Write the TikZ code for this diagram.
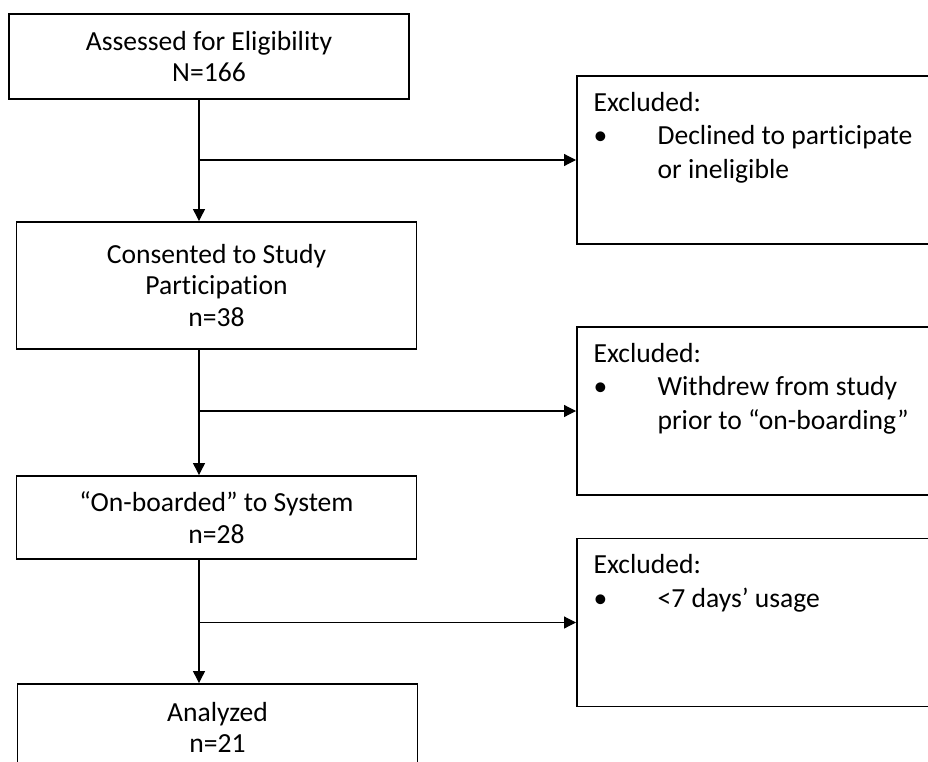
\documentclass[tikz,border=0pt]{standalone}
\usepackage{fontspec}
\setmainfont{Carlito}[Ligatures=NoCommon]
\usetikzlibrary{arrows.meta,positioning}
\begin{document}
\begin{tikzpicture}[x=1pt, y=-1pt, line width=1.2pt, >={Triangle[length=12pt,width=12pt]},
  font=\fontsize{27.6}{31.5}\selectfont,
  flow/.style={draw, line width=1.9pt, align=center, inner sep=0pt, minimum width=400pt},
  exbox/.style={draw, line width=1.9pt, minimum width=400pt, minimum height=168pt, inner sep=0pt},
  extext/.style={inner sep=0pt, align=left, font=\fontsize{27.6}{33.5}\selectfont}]
  \useasboundingbox (0,0) rectangle (928,762);
  \clip (0,0) rectangle (928,762);
  % main column
  \node[flow, minimum height=85pt] (assess) at (209,56.5) {Assessed for Eligibility\\N=166};
  \node[flow, minimum height=127pt] (consent) at (216.5,285.5) {Consented to Study\\Participation\\n=38};
  \node[flow, minimum height=83pt] (onboard) at (216.5,517.5) {“On-boarded” to System\\n=28};
  \node[flow, minimum height=87pt] (analyzed) at (217.5,727.5) {Analyzed\\n=21};
  \coordinate (trunk) at (199,0);
  % exclusion boxes
  \node[exbox, anchor=west] (excl1) at (576,160) {};
  \node[exbox, anchor=west] (excl2) at (576,411) {};
  \node[exbox, anchor=west] (excl3) at (576,622.5) {};
  \node[extext, below right=12pt and 17pt of excl1.north west] (txt1) {%
    \begin{tabular}{@{}p{64pt}@{}l@{}}
      \multicolumn{2}{@{}l@{}}{Excluded:}\\
      \textbullet & Declined to participate\\
      & or ineligible
    \end{tabular}};
  \node[extext, below right=12pt and 17pt of excl2.north west] (txt2) {%
    \begin{tabular}{@{}p{64pt}@{}l@{}}
      \multicolumn{2}{@{}l@{}}{Excluded:}\\
      \textbullet & Withdrew from study\\
      & prior to “on-boarding”
    \end{tabular}};
  \node[extext, below right=12pt and 17pt of excl3.north west] (txt3) {%
    \begin{tabular}{@{}p{64pt}@{}l@{}}
      \multicolumn{2}{@{}l@{}}{Excluded:}\\
      \textbullet & <7 days’ usage
    \end{tabular}};
  % connectors
  \draw[->] (assess.south -| trunk) -- (consent.north -| trunk);
  \draw[->] (consent.south -| trunk) -- (onboard.north -| trunk);
  \draw[->] (onboard.south -| trunk) -- (analyzed.north -| trunk);
  \draw[->] (trunk |- excl1.west) -- (excl1.west);
  \draw[->] (trunk |- excl2.west) -- (excl2.west);
  \draw[->] (trunk |- excl3.west) -- (excl3.west);
\end{tikzpicture}
\end{document}
